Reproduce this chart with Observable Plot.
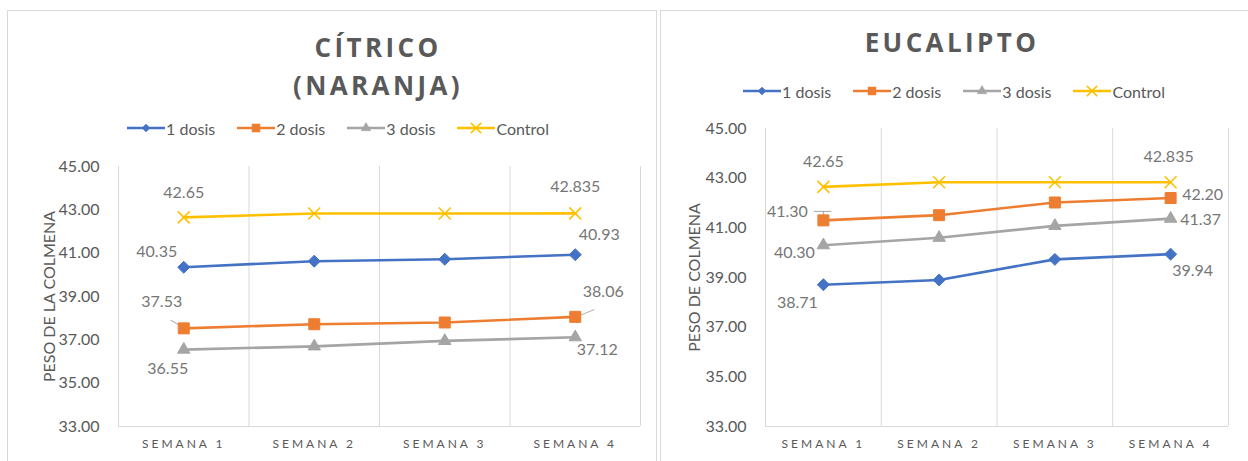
<!DOCTYPE html>
<html>
<head>
<meta charset="utf-8">
<script src="https://cdn.jsdelivr.net/npm/d3@7"></script>
<script src="https://cdn.jsdelivr.net/npm/@observablehq/plot@0.6"></script>
<style>
  html, body { margin: 0; padding: 0; background: #fff; }
  body { width: 1248px; height: 461px; position: relative; overflow: hidden; font-family: Lato, "Open Sans", sans-serif; }
  .panel { position: absolute; border: 1px solid #d9d9d9; box-sizing: border-box; }
  .title { position: absolute; text-align: center; font-weight: bold; color: #595959; font-size: 26px; letter-spacing: 3.4px; line-height: 38px; font-family: "Open Sans", Lato, sans-serif; }
  .legend { position: absolute; display: flex; align-items: center; font-size: 16px; color: #595959; white-space: nowrap; }
  .legend .item { display: flex; align-items: center; margin-right: 22px; }
  .legend svg { margin-right: 1px; }
  .chart { position: absolute; }
  .chart g[aria-label="x-axis tick label"] text { letter-spacing: 3px; }
</style>
</head>
<body>
<div class="panel" style="left:7px;top:10px;width:650px;height:470px"></div>
<div class="panel" style="left:660px;top:10px;width:600px;height:470px"></div>
<div class="title" id="t1" style="left:178px;top:28px;width:400px">CÍTRICO<br>(NARANJA)</div>
<div class="title" id="t2" style="left:752px;top:23px;width:400px">EUCALIPTO</div>
<div class="legend" id="lg1"></div>
<div class="legend" id="lg2"></div>
<div class="chart" id="c1" style="left:0;top:150px"></div>
<div class="chart" id="c2" style="left:660px;top:110px"></div>
<script>
// ---- data ----
const weeks = ["SEMANA 1", "SEMANA 2", "SEMANA 3", "SEMANA 4"];
const seriesNames = ["1 dosis", "2 dosis", "3 dosis", "Control"];
const yTicks = [33, 35, 37, 39, 41, 43, 45];

const citrico1 = [40.35, 40.63, 40.72, 40.93];
const citrico2 = [37.53, 37.72, 37.80, 38.06];
const citrico3 = [36.55, 36.70, 36.95, 37.12];
const citricoC = [42.65, 42.83, 42.83, 42.835];

const euca1 = [38.71, 38.90, 39.73, 39.94];
const euca2 = [41.30, 41.51, 42.02, 42.20];
const euca3 = [40.30, 40.60, 41.08, 41.37];
const eucaC = [42.65, 42.835, 42.835, 42.835];

// ---- styles ----
const colors = {"1 dosis": "#4472C4", "2 dosis": "#ED7D31", "3 dosis": "#A5A5A5", "Control": "#FFC000"};
const symbols = {"1 dosis": "diamond2", "2 dosis": "square", "3 dosis": "triangle", "Control": "times"};
const radii = {"1 dosis": 5.4, "2 dosis": 6.2, "3 dosis": 4.6, "Control": 5.5};
const labelGray = "#767676";

function fmt(v, s) {
  if (s === "Control") return String(v);
  return v.toFixed(2);
}

function toRows(arrs) {
  const rows = [];
  seriesNames.forEach((s, si) => {
    arrs[si].forEach((v, i) => rows.push({series: s, week: i + 1, value: v, idx: i}));
  });
  return rows;
}

// label offsets (px) for first / last point of each series
const offsets1 = {
  "1 dosis": [[-27, -15], [24, -20]],
  "2 dosis": [[-22, -26], [28, -25]],
  "3 dosis": [[-16, 19], [22, 13]],
  "Control": [[0, -25], [0, -27]]
};
const offsets2 = {
  "1 dosis": [[-26, 18], [22, 17]],
  "2 dosis": [[-36, -9], [32, -3]],
  "3 dosis": [[-29, 8], [30, 1]],
  "Control": [[0, -25], [-2, -25]]
};
// leader lines [series, pointIdx, dx, dy, length, rotate]
const leaders1 = [["2 dosis", 0, -4, -3, 21, -60], ["2 dosis", 3, 6, -2, 29, 68]];
const leaders2 = [["2 dosis", 0, -9, -9, 9, 90], ["2 dosis", 0, 0, -9, 4, 180]];

function makeChart(arrs, opt) {
  const rows = toRows(arrs);
  const ends = rows.filter(d => d.idx === 0 || d.idx === weeks.length - 1);
  const labelMarks = ends.map(d => {
    const o = opt.offsets[d.series][d.idx === 0 ? 0 : 1];
    return Plot.text([d], {x: "week", y: "value", text: r => fmt(r.value, r.series), dx: o[0], dy: o[1], fill: labelGray, fontSize: 16});
  });
  const leaderMarks = (opt.leaders || []).map(L => {
    const d = rows.find(r => r.series === L[0] && r.idx === L[1]);
    return Plot.vector([d], {x: "week", y: "value", dx: L[2], dy: L[3], length: () => L[4], rotate: () => L[5], anchor: "start", stroke: "#a6a6a6", strokeWidth: 1,
      shape: {draw(ctx, l) { ctx.moveTo(0, 0); ctx.lineTo(0, -l); }}});
  });
  const edges = weeks.map((w, i) => i + 0.5).concat([weeks.length + 0.5]);
  return Plot.plot({
    width: opt.width, height: opt.height,
    marginLeft: opt.ml, marginRight: opt.mr, marginTop: opt.mt, marginBottom: opt.mb,
    style: {fontFamily: "Lato, 'Open Sans', sans-serif", fontSize: "14px", color: "#595959", background: "transparent"},
    x: {type: "linear", domain: [0.5, weeks.length + 0.5]},
    y: {domain: [yTicks[0], yTicks[yTicks.length - 1]]},
    marks: [
      Plot.ruleX(edges, {x: d => d, y1: yTicks[0], y2: yTicks[yTicks.length - 1], stroke: "#d9d9d9", strokeWidth: 1, strokeOpacity: 1}),
      Plot.ruleY([yTicks[0]], {stroke: "#d9d9d9", strokeWidth: 1.2, strokeOpacity: 1}),
      Plot.axisY({ticks: yTicks, tickFormat: d3.format(".2f"), tickSize: 0, tickPadding: 19, fontSize: 16,
        label: opt.ylabel, labelAnchor: "center", labelArrow: "none", labelOffset: opt.labelOffset}),
      Plot.axisX({ticks: weeks.map((w, i) => i + 1), tickFormat: i => weeks[i - 1], tickSize: 0, tickPadding: 13, fontSize: 12, label: null}),
      Plot.line(rows, {x: "week", y: "value", z: "series", stroke: d => colors[d.series], strokeWidth: 2.6}),
      ...leaderMarks,
      ...seriesNames.map(s => Plot.dot(rows.filter(d => d.series === s), {x: "week", y: "value",
        symbol: () => symbols[s], r: radii[s],
        fill: s === "Control" ? "none" : colors[s], stroke: colors[s], strokeWidth: s === "Control" ? 1.6 : 1})),
      ...labelMarks
    ]
  });
}

function makeLegend(el, left, top) {
  seriesNames.forEach(s => {
    const item = document.createElement("div");
    item.className = "item";
    const svg = d3.create("svg").attr("width", 38).attr("height", 14);
    svg.append("line").attr("x1", 0).attr("x2", 38).attr("y1", 7).attr("y2", 7).attr("stroke", colors[s]).attr("stroke-width", 2.6);
    const map = {"diamond2": d3.symbolDiamond2, "square": d3.symbolSquare, "triangle": d3.symbolTriangle, "times": d3.symbolTimes};
    const sizes = {"1 dosis": 40, "2 dosis": 64, "3 dosis": 40, "Control": 70};
    svg.append("path").attr("transform", "translate(19,7)")
      .attr("d", d3.symbol(map[symbols[s]], sizes[s])())
      .attr("fill", s === "Control" ? "none" : colors[s]).attr("stroke", colors[s]).attr("stroke-width", s === "Control" ? 1.5 : 0.5);
    item.appendChild(svg.node());
    const t = document.createElement("span");
    t.textContent = s;
    item.appendChild(t);
    el.appendChild(item);
  });
  el.lastChild.style.marginRight = "0";
  const r = el.getBoundingClientRect();
  el.style.left = (left - r.width / 2) + "px";
  el.style.top = (top - r.height / 2) + "px";
}

makeLegend(document.getElementById("lg1"), 338, 128);
makeLegend(document.getElementById("lg2"), 954, 91);

document.getElementById("c1").appendChild(makeChart([citrico1, citrico2, citrico3, citricoC], {
  width: 655, height: 311, ml: 118, mr: 15, mt: 16, mb: 35, ylabel: "PESO DE LA COLMENA", labelOffset: 75,
  offsets: offsets1, leaders: leaders1
}));
document.getElementById("c2").appendChild(makeChart([euca1, euca2, euca3, eucaC], {
  width: 588, height: 351, ml: 105, mr: 20, mt: 18, mb: 35, ylabel: "PESO DE COLMENA", labelOffset: 77,
  offsets: offsets2, leaders: leaders2
}));
</script>
</body>
</html>
